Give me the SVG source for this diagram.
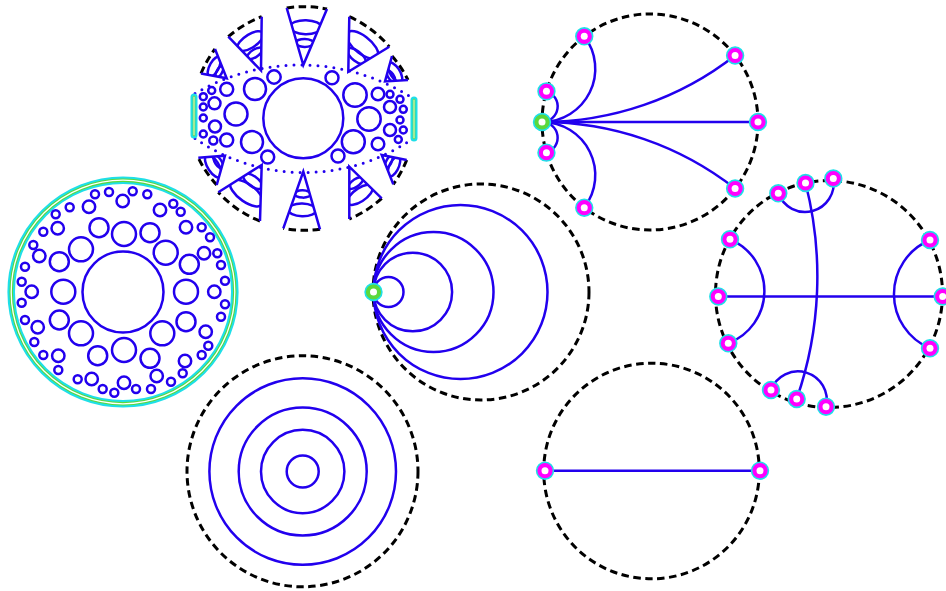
<svg xmlns="http://www.w3.org/2000/svg" width="946" height="591" viewBox="0 0 946 591">
<style>
.b{fill:none;stroke:#2200ee;stroke-width:2.5}
.w{fill:none;stroke:#2200ee;stroke-width:2.5;vector-effect:non-scaling-stroke}
.d{fill:none;stroke:#000;stroke-width:3;stroke-dasharray:7.5 4.5}
.dot{fill:none;stroke:#2200ee;stroke-width:3;stroke-dasharray:0 8;stroke-linecap:round}
.nm{fill:#ff00ff;stroke:#1fdfe8;stroke-width:1.6}
.ng{fill:#5bd83c;stroke:#1fdfe8;stroke-width:1.6}
.nc{fill:#fff}
.e{fill:none;stroke:#2200ee;stroke-width:2.5}
</style>
<defs>
<clipPath id="wclip" clipPathUnits="userSpaceOnUse"><polygon points="0,0 -1,-1 1,-1"/></clipPath>
<g id="mn"><circle r="8.4" class="nm"/><circle r="3.5" class="nc"/></g>
<g id="gn"><circle r="8.4" class="ng"/><circle r="3.5" class="nc"/></g>
</defs>

<!-- Figure: ring packing (left) -->
<g id="fig-ring">
<circle cx="123" cy="292" r="111.8" fill="none" stroke="#1fdfe8" stroke-width="7.6"/>
<circle cx="123" cy="292" r="111.8" fill="none" stroke="#5bd83c" stroke-width="3.4"/>
<circle cx="123" cy="292" r="111.8" fill="none" stroke="#fff" stroke-width="1.3"/>
<circle cx="123" cy="292" r="40.5" class="b"/>
<g class="b">
<circle cx="124" cy="234" r="12"/><circle cx="81" cy="249.3" r="12"/><circle cx="63.3" cy="291.7" r="12"/><circle cx="81" cy="333.3" r="12"/>
<circle cx="124" cy="350" r="12"/><circle cx="162.3" cy="333.3" r="12"/><circle cx="186" cy="291.7" r="12"/><circle cx="165.7" cy="252.7" r="12"/>
<circle cx="99" cy="227.7" r="9.5"/><circle cx="59.3" cy="261.7" r="9.5"/><circle cx="59.3" cy="320" r="9.5"/><circle cx="97.7" cy="355.7" r="9.5"/>
<circle cx="150" cy="358.3" r="9.5"/><circle cx="186" cy="321.7" r="9.5"/><circle cx="189.3" cy="264.3" r="9.5"/><circle cx="150" cy="232.7" r="9.5"/>
<circle cx="122.7" cy="201" r="6.2"/><circle cx="89" cy="206.7" r="6.2"/><circle cx="160" cy="210" r="6.2"/><circle cx="57.7" cy="228.3" r="6.2"/>
<circle cx="186" cy="227.3" r="6.2"/><circle cx="39.3" cy="256" r="6.2"/><circle cx="204" cy="253.3" r="6.2"/><circle cx="31.7" cy="291.7" r="6.2"/>
<circle cx="214.3" cy="291.7" r="6.2"/><circle cx="37.7" cy="327.3" r="6.2"/><circle cx="205.7" cy="331.7" r="6.2"/><circle cx="58.3" cy="355.7" r="6.2"/>
<circle cx="185" cy="361" r="6.2"/><circle cx="91.7" cy="379" r="6.2"/><circle cx="156.7" cy="376" r="6.2"/><circle cx="124" cy="382.7" r="6.2"/>
<circle cx="95" cy="194.3" r="4"/><circle cx="109" cy="192" r="4"/><circle cx="132.7" cy="191.3" r="4"/><circle cx="147.3" cy="194.3" r="4"/>
<circle cx="69.7" cy="207.3" r="4"/><circle cx="173.3" cy="203.7" r="4"/><circle cx="180.7" cy="211.7" r="4"/><circle cx="55.7" cy="214.3" r="4"/>
<circle cx="43.3" cy="231.7" r="4"/><circle cx="201.7" cy="227.3" r="4"/><circle cx="210" cy="237.3" r="4"/><circle cx="33.3" cy="245" r="4"/>
<circle cx="217.3" cy="253.3" r="4"/><circle cx="25" cy="266.7" r="4"/><circle cx="221" cy="265" r="4"/><circle cx="21.7" cy="281.7" r="4"/>
<circle cx="225" cy="280.7" r="4"/><circle cx="21.7" cy="302.7" r="4"/><circle cx="225" cy="304.3" r="4"/><circle cx="25" cy="320" r="4"/>
<circle cx="221" cy="316.7" r="4"/><circle cx="34.3" cy="342" r="4"/><circle cx="208.3" cy="345.7" r="4"/><circle cx="43.3" cy="355" r="4"/>
<circle cx="201.7" cy="355" r="4"/><circle cx="58.3" cy="370" r="4"/><circle cx="182.7" cy="373.3" r="4"/><circle cx="77.7" cy="379.3" r="4"/>
<circle cx="171" cy="381.7" r="4"/><circle cx="102.7" cy="389" r="4"/><circle cx="114.3" cy="392.7" r="4"/><circle cx="136" cy="389" r="4"/>
<circle cx="151" cy="389" r="4"/>
</g>
</g>

<!-- Figure: cones and lens (top middle) -->
<g id="fig-cones">
<path class="dot" d="M195,93.5 A207.6,207.6 0 0 1 410,96.5"/>
<path class="dot" d="M195,138.5 A191.6,191.6 0 0 0 410,140.5"/>
<g fill="none" stroke-linecap="round">
<path d="M194,97 V135" stroke="#1fdfe8" stroke-width="7"/>
<path d="M194,97 V135" stroke="#5bd83c" stroke-width="2.6"/>
<path d="M194,97 V135" stroke="#fff" stroke-width="0.9"/>
<path d="M414,100 V138" stroke="#1fdfe8" stroke-width="7"/>
<path d="M414,100 V138" stroke="#5bd83c" stroke-width="2.6"/>
<path d="M414,100 V138" stroke="#fff" stroke-width="0.9"/>
</g>
<circle cx="303.3" cy="118.3" r="40" class="b"/>
<g class="b">
<circle cx="211.7" cy="90.5" r="3.5"/><circle cx="203.3" cy="96.7" r="3.5"/><circle cx="214.5" cy="103.3" r="6"/><circle cx="203.3" cy="107" r="3.5"/>
<circle cx="203.3" cy="118" r="3.5"/><circle cx="215" cy="126.5" r="6"/><circle cx="203.3" cy="134" r="3.5"/><circle cx="213.3" cy="140.5" r="4"/>
<circle cx="226.7" cy="89.3" r="6.5"/><circle cx="226.7" cy="140" r="6.5"/><circle cx="236" cy="114" r="11.5"/><circle cx="255" cy="89" r="11"/>
<circle cx="252" cy="142" r="11"/><circle cx="274" cy="77" r="6.7"/><circle cx="267.7" cy="157" r="6.5"/>
<circle cx="332" cy="77.7" r="6.5"/><circle cx="355" cy="95" r="11.7"/><circle cx="378" cy="94" r="6.3"/><circle cx="390" cy="94.3" r="3.5"/>
<circle cx="400" cy="99.3" r="3.5"/><circle cx="390" cy="107" r="6"/><circle cx="403.3" cy="109.3" r="3.5"/><circle cx="369" cy="119" r="11.7"/>
<circle cx="400" cy="120" r="3.5"/><circle cx="390" cy="130" r="6"/><circle cx="403.3" cy="130" r="3.5"/><circle cx="398.3" cy="139.5" r="3.5"/>
<circle cx="378" cy="144" r="6.3"/><circle cx="353.3" cy="141.7" r="11.5"/><circle cx="338" cy="156" r="6.5"/>
</g>
<g class="d">
<path d="M286.7,8 A112,112 0 0 1 327,9"/>
<path d="M349.3,16.7 A112,112 0 0 1 389.3,46.7"/>
<path d="M392,56 A112,112 0 0 1 408,80"/>
<path d="M228.3,36.7 A112,112 0 0 1 261.7,16.7"/>
<path d="M201,73.5 A112,112 0 0 1 215,49"/>
<path d="M216.7,185 A112,112 0 0 1 198.3,157.7"/>
<path d="M260,221 A112,112 0 0 1 218.3,192.3"/>
<path d="M320,229.3 A112,112 0 0 1 283.3,228.3"/>
<path d="M381.7,198.3 A112,112 0 0 1 349.3,219"/>
<path d="M406.7,160 A112,112 0 0 1 393.3,184.3"/>
</g>
<g id="wedge-top" transform="matrix(20.15 0.5 -3.55 56.5 303.3 65)">
<g clip-path="url(#wclip)"><ellipse class="w" cx="0" cy="-0.67" rx="0.77" ry="0.124"/><ellipse class="w" cx="0" cy="-0.39" rx="0.45" ry="0.071"/></g>
<path class="w" d="M-1,-1 L0,0 L1,-1"/></g>
<g id="wedge-ur" transform="matrix(20 15 -21 40 348.3 71.7)">
<g clip-path="url(#wclip)"><ellipse class="w" cx="0" cy="-0.67" rx="0.77" ry="0.192"/><ellipse class="w" cx="0" cy="-0.39" rx="0.45" ry="0.111"/></g>
<path class="w" d="M-1,-1 L0,0 L1,-1"/></g>
<g id="wedge-ru" transform="matrix(8 12 -15 13.5 385 81.5)">
<g clip-path="url(#wclip)"><ellipse class="w" cx="0" cy="-0.67" rx="0.77" ry="0.246"/><ellipse class="w" cx="0" cy="-0.39" rx="0.45" ry="0.142"/></g>
<path class="w" d="M-1,-1 L0,0 L1,-1"/></g>
<g id="wedge-ul" transform="matrix(16.7 -10 16 43.8 261 70.5)">
<g clip-path="url(#wclip)"><ellipse class="w" cx="0" cy="-0.67" rx="0.77" ry="0.145"/><ellipse class="w" cx="0" cy="-0.39" rx="0.45" ry="0.084"/></g>
<path class="w" d="M-1,-1 L0,0 L1,-1"/></g>
<g id="wedge-lu" transform="matrix(7 -12.25 18.7 17.05 226.7 78.3)">
<g clip-path="url(#wclip)"><ellipse class="w" cx="0" cy="-0.67" rx="0.77" ry="0.193"/><ellipse class="w" cx="0" cy="-0.39" rx="0.45" ry="0.111"/></g>
<path class="w" d="M-1,-1 L0,0 L1,-1"/></g>
<g id="wedge-ll" transform="matrix(9.2 13.65 17.5 -15.65 225 155.7)">
<g clip-path="url(#wclip)"><ellipse class="w" cx="0" cy="-0.67" rx="0.77" ry="0.243"/><ellipse class="w" cx="0" cy="-0.39" rx="0.45" ry="0.14"/></g>
<path class="w" d="M-1,-1 L0,0 L1,-1"/></g>
<g id="wedge-lower-left" transform="matrix(20.85 14.35 22.55 -41.65 261.7 165)">
<g clip-path="url(#wclip)"><ellipse class="w" cx="0" cy="-0.67" rx="0.77" ry="0.185"/><ellipse class="w" cx="0" cy="-0.39" rx="0.45" ry="0.107"/></g>
<path class="w" d="M-1,-1 L0,0 L1,-1"/></g>
<g id="wedge-bottom" transform="matrix(18.35 0.5 1.65 -57.1 303.3 171.7)">
<g clip-path="url(#wclip)"><ellipse class="w" cx="0" cy="-0.67" rx="0.77" ry="0.111"/><ellipse class="w" cx="0" cy="-0.39" rx="0.45" ry="0.064"/></g>
<path class="w" d="M-1,-1 L0,0 L1,-1"/></g>
<g id="wedge-lower-right" transform="matrix(16.2 -10.35 -16.2 -41.95 349.3 166.7)">
<g clip-path="url(#wclip)"><ellipse class="w" cx="0" cy="-0.67" rx="0.77" ry="0.148"/><ellipse class="w" cx="0" cy="-0.39" rx="0.45" ry="0.085"/></g>
<path class="w" d="M-1,-1 L0,0 L1,-1"/></g>
<g id="wedge-rl" transform="matrix(-6.7 12.15 -18.3 -17.15 381.7 155)">
<g clip-path="url(#wclip)"><ellipse class="w" cx="0" cy="-0.67" rx="0.77" ry="0.192"/><ellipse class="w" cx="0" cy="-0.39" rx="0.45" ry="0.111"/></g>
<path class="w" d="M-1,-1 L0,0 L1,-1"/></g>
</g>

<!-- Boundary circles -->
<g id="boundaries">
<circle cx="650" cy="122" r="108" class="d"/>
<circle cx="829" cy="294" r="113.5" class="d"/>
<circle cx="481" cy="292" r="108" class="d"/>
<circle cx="302.5" cy="471.3" r="115.5" class="d"/>
<circle cx="651.5" cy="471" r="107.8" class="d"/>
</g>

<!-- Figure: tangent circles -->
<g id="fig-tangent" class="b">
<circle cx="388.5" cy="292" r="15"/>
<circle cx="412.8" cy="292" r="39.3"/>
<circle cx="433.5" cy="292" r="60"/>
<circle cx="460.5" cy="292" r="87"/>
</g>

<!-- Figure: concentric circles -->
<g id="fig-concentric" class="b">
<circle cx="302.7" cy="471.5" r="16"/>
<circle cx="302.7" cy="471.5" r="41.7"/>
<circle cx="302.7" cy="471.5" r="64"/>
<circle cx="302.7" cy="471.5" r="93.3"/>
</g>

<!-- Connectors -->
<g id="connectors" class="e">
<path d="M542,122 A53.25,53.25 0 0 0 584.25,36.31"/>
<path d="M542,122 A15.66,15.66 0 0 0 546.45,91.33"/>
<path d="M542,122 A15.66,15.66 0 0 1 546.45,152.67"/>
<path d="M542,122 A53.25,53.25 0 0 1 584.25,207.69"/>
<path d="M542,122 A313.7,313.7 0 0 0 735.1,55.5"/>
<path d="M542,122 L758,122"/>
<path d="M542,122 A313.7,313.7 0 0 1 735.1,188.5"/>
<path d="M718.3,296.5 L942.7,296.5"/>
<path d="M730,239.3 A56,56 0 0 1 728.3,343.3"/>
<path d="M930,240 A58.7,58.7 0 0 0 930,348.3"/>
<path d="M778.3,193.3 A28.6,28.6 0 0 0 833.3,178.5"/>
<path d="M771,390 A28.8,28.8 0 0 1 826,406.7"/>
<path d="M805.5,183 A374,374 0 0 1 796.7,399"/>
<path d="M545,470.7 L760,470.7"/>
</g>

<!-- Nodes -->
<g id="n3-center"><use href="#gn" x="542" y="122"/></g>
<g id="n3-a"><use href="#mn" x="584.25" y="36.31"/></g>
<g id="n3-b"><use href="#mn" x="546.45" y="91.33"/></g>
<g id="n3-c"><use href="#mn" x="546.45" y="152.67"/></g>
<g id="n3-d"><use href="#mn" x="584.25" y="207.69"/></g>
<g id="n3-e"><use href="#mn" x="735.1" y="55.5"/></g>
<g id="n3-f"><use href="#mn" x="758" y="122"/></g>
<g id="n3-g"><use href="#mn" x="735.1" y="188.5"/></g>
<g id="n4-1"><use href="#mn" x="778.3" y="193.3"/></g>
<g id="n4-2"><use href="#mn" x="805.5" y="183"/></g>
<g id="n4-3"><use href="#mn" x="833.3" y="178.5"/></g>
<g id="n4-4"><use href="#mn" x="730" y="239.3"/></g>
<g id="n4-5"><use href="#mn" x="718.3" y="296.5"/></g>
<g id="n4-6"><use href="#mn" x="728.3" y="343.3"/></g>
<g id="n4-7"><use href="#mn" x="930" y="240"/></g>
<g id="n4-8"><use href="#mn" x="942.7" y="296.5"/></g>
<g id="n4-9"><use href="#mn" x="930" y="348.3"/></g>
<g id="n4-10"><use href="#mn" x="771" y="390"/></g>
<g id="n4-11"><use href="#mn" x="796.7" y="399"/></g>
<g id="n4-12"><use href="#mn" x="826" y="406.7"/></g>
<g id="n5-tangent"><use href="#gn" x="373.5" y="292"/></g>
<g id="n7-left"><use href="#mn" x="545" y="470.7"/></g>
<g id="n7-right"><use href="#mn" x="760" y="470.7"/></g>
</svg>
